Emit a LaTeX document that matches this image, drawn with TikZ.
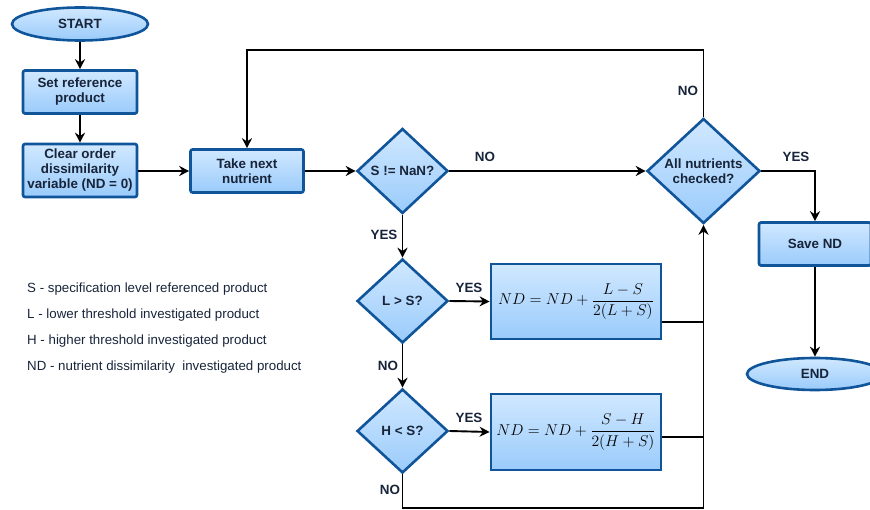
\documentclass[tikz,border=0pt]{standalone}
\usepackage{graphicx}
\usepackage{fontspec}
\setmainfont{Liberation Sans}
\usetikzlibrary{shapes.geometric,arrows.meta,calc}

\definecolor{boxtop}{HTML}{D0E8FF}
\definecolor{boxbot}{HTML}{9ACBFB}
\definecolor{boxedge}{HTML}{10549A}
\definecolor{ink}{HTML}{17243A}

% update rule, set a little larger than the nearest design size
\newcommand{\ndrule}[1]{\scalebox{1.09}{$\displaystyle #1$}}

\tikzset{
  flowtext/.style={font=\fontsize{13.4}{15}\selectfont\bfseries, text=ink, align=center},
  procbox/.style={flowtext, draw=boxedge, line width=2.6pt, top color=boxtop, bottom color=boxbot,
    rounded corners=2pt, inner sep=0pt},
  mathbox/.style={draw=boxedge, line width=2.8pt, top color=boxtop, bottom color=boxbot,
    inner sep=0pt, font=\fontsize{14.4}{17}\selectfont},
  decision/.style={flowtext, diamond, draw=boxedge, line width=2.6pt, top color=boxtop, bottom color=boxbot,
    inner sep=0pt},
  terminal/.style={flowtext, ellipse, draw=boxedge, line width=2.6pt, top color=boxtop, bottom color=boxbot,
    inner sep=0pt},
  flow/.style={line width=1.9pt, black},
  arrowed/.style={flow, -{Stealth[length=10pt,width=10pt]}},
  edgelabel/.style={flowtext},
  legend/.style={font=\fontsize{13.3}{15}\selectfont, text=ink, anchor=west, inner sep=0pt},
}

\begin{document}
\begin{tikzpicture}[x=1pt,y=-1pt]
\useasboundingbox (0,0) rectangle (870,510);

% main chain
\node[terminal, minimum width=136pt, minimum height=33pt] (start) at (80,24) {START};
\node[procbox, minimum width=114pt, minimum height=43pt] (setref) at (80,92) {Set reference\\product};
\node[procbox, minimum width=114pt, minimum height=53pt] (clear) at (80,170.5) {Clear order\\dissimilarity\\variable (ND = 0)};
\node[procbox, minimum width=113pt, minimum height=43pt] (take) at (247,171) {Take next\\nutrient};
\node[decision, minimum width=91pt, minimum height=85pt] (nan) at (402.5,171) {S != NaN?};
\node[decision, minimum width=113pt, minimum height=105pt] (all) at (703.5,171) {All nutrients\\checked?};
\node[procbox, minimum width=112pt, minimum height=43pt] (save) at (815,244) {Save ND};
\node[terminal, minimum width=136pt, minimum height=32pt] (end) at (815,374) {END};

% threshold tests
\node[decision, minimum width=91pt, minimum height=84pt] (ls) at (402.5,301) {L > S?};
\node[decision, minimum width=91pt, minimum height=84pt] (hs) at (402.5,431) {H < S?};
\node[mathbox, minimum width=170pt, minimum height=75pt] (f1) at (576,301.5)
  {\ndrule{ND = ND + \frac{L - S}{2(L + S)}}};
\node[mathbox, minimum width=170pt, minimum height=76pt] (f2) at (576,432)
  {\ndrule{ND = ND + \frac{S - H}{2(H + S)}}};

% routing points
\coordinate (loopR) at (703.5,50);
\coordinate (loopL) at (247,50);
\coordinate (j1) at (703.5,322);
\coordinate (j2) at (703.5,437);
\coordinate (botL) at (402.5,508);
\coordinate (botR) at (703.5,508);

% connectors
\draw[arrowed] (start) -- (setref);
\draw[arrowed] (setref) -- (clear);
\draw[arrowed] (clear.east |- take) -- (take.west);
\draw[arrowed] (take) -- (nan);
\draw[arrowed] (nan.east) -- (all.west);
\draw[arrowed] (all.north) -- (loopR) -- (loopL) -- (take.north);
\draw[arrowed] (all.east) -| (save.north);
\draw[arrowed] (save) -- (end);
\draw[arrowed] (nan.south) -- (ls.north);
\draw[arrowed] (ls.east) -- (f1.west);
\draw[arrowed] (ls.south) -- (hs.north);
\draw[arrowed] (hs.east) -- (f2.west);
\draw[flow] (f1.east |- j1) -- (j1);
\draw[flow] (f2.east |- j2) -- (j2);
\draw[arrowed] (hs.south) -- (botL) -- (botR) -- (all.south);

% branch labels
\node[edgelabel] (lnan) at (485,157) {NO};
\node[edgelabel] (lloop) at (688,91) {NO};
\node[edgelabel] (lsave) at (796,157) {YES};
\node[edgelabel] (lyes1) at (384,235) {YES};
\node[edgelabel] (lyes2) at (469,288) {YES};
\node[edgelabel] (lno2) at (388,366) {NO};
\node[edgelabel] (lyes3) at (469,418) {YES};
\node[edgelabel] (lno3) at (390,490) {NO};

% legend
\node[legend] (k1) at (27,289) {S - specification level referenced product};
\node[legend] (k2) at (27,315) {L - lower threshold investigated product};
\node[legend] (k3) at (27,341) {H - higher threshold investigated product};
\node[legend] (k4) at (27,367) {ND - nutrient dissimilarity\ \ investigated product};
\end{tikzpicture}
\end{document}
